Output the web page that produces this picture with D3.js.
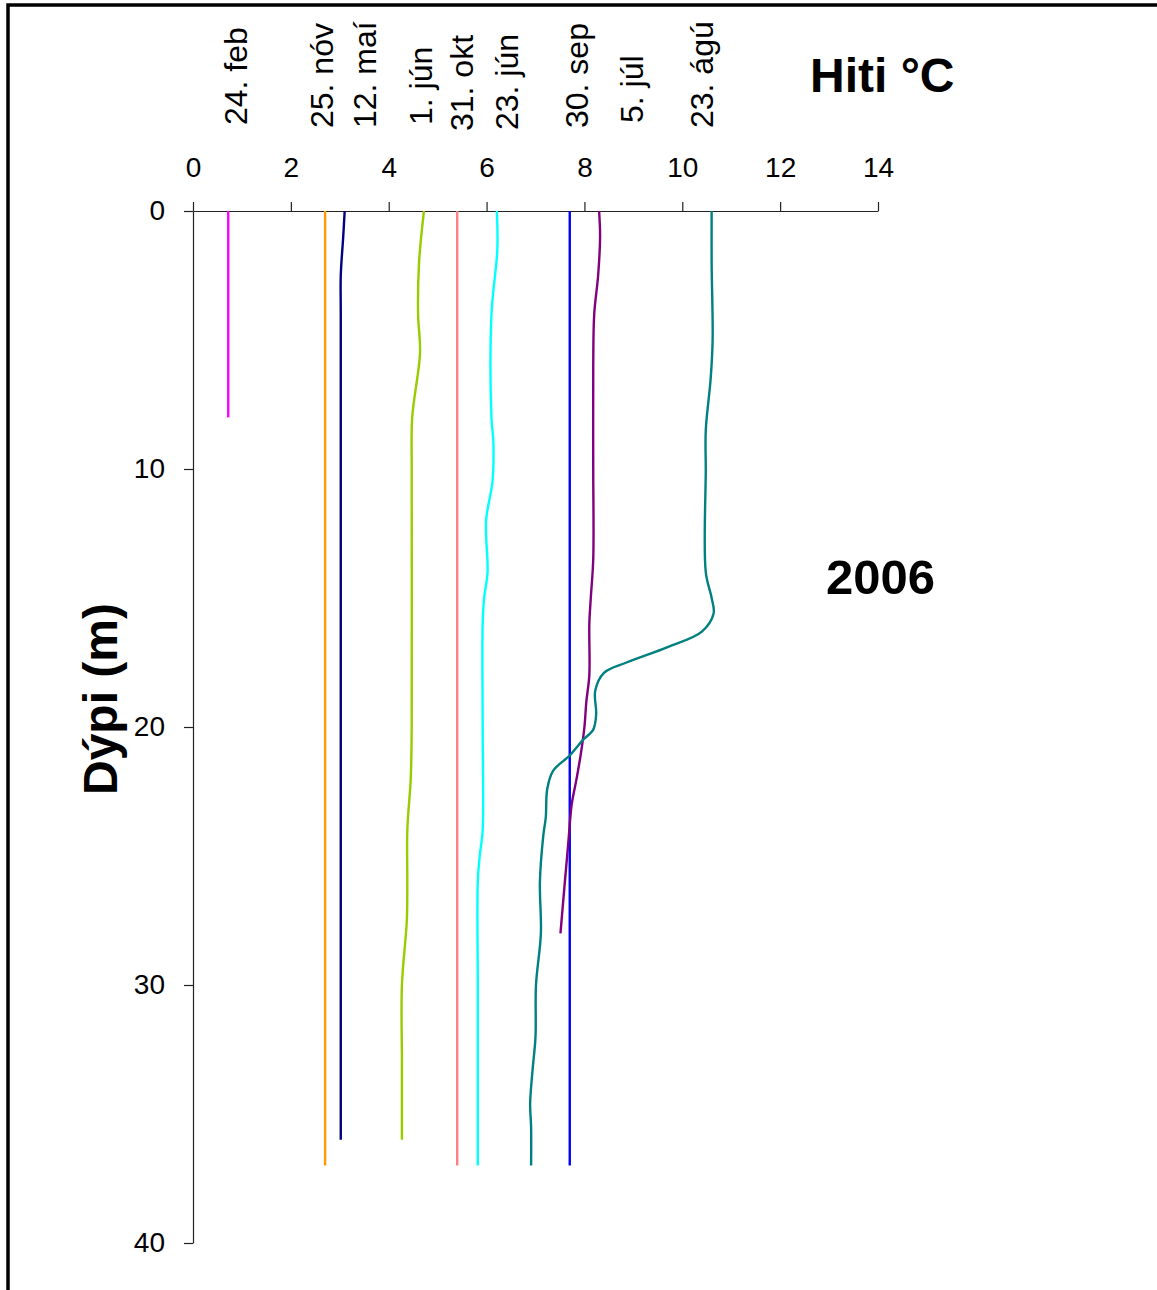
<!DOCTYPE html>
<html><head><meta charset="utf-8">
<script src="https://cdn.jsdelivr.net/npm/d3@7"></script>
<style>body{margin:0;background:#fff}svg{display:block}</style>
</head><body>
<svg id="c" width="1157" height="1290"></svg>
<script>
// ---- data: each profile is a list of [depth (m), temperature (°C)] ----
const seriesNames = ["24. feb","25. nóv","12. maí","1. jún","31. okt","23. jún","30. sep","5. júl","23. ágú"];
const seriesColors = ["#FF00FF","#FF9900","#000080","#99CC00","#FF8080","#00FFFF","#0000FF","#800080","#008080"];
const feb24 = [[0,0.72],[8,0.72]];
const nov25 = [[0,2.70],[37,2.70]];
const mai12 = [[0,3.10],[1,3.07],[2.5,3.02],[4,3.02],[36,3.02]];
const jun1  = [[0,4.72],[2,4.62],[4,4.60],[5.5,4.64],[8,4.48],[10,4.47],[20,4.47],[22,4.45],[24,4.38],[26,4.38],[27.5,4.37],[30,4.27],[33,4.27],[36,4.27]];
const okt31 = [[0,5.40],[37,5.40]];
const jun23 = [[0,6.21],[1.5,6.22],[4,6.10],[8,6.10],[9,6.14],[10.5,6.12],[12,5.99],[14,6.02],[15,5.95],[16,5.92],[20,5.92],[24,5.92],[25,5.86],[26,5.82],[30,5.82],[37,5.82]];
const sep30 = [[0,7.70],[37,7.70]];
const jul5  = [[0,8.30],[1,8.32],[2.5,8.28],[4,8.20],[6,8.18],[10,8.18],[13.5,8.18],[15,8.13],[16,8.10],[18,8.10],[19,8.04],[20,8.00],[21,7.93],[22,7.84],[23,7.74],[24.5,7.67],[26,7.60],[28,7.51]];
const agu23 = [[0,10.60],[2,10.60],[5,10.62],[6.5,10.58],[8.5,10.48],[10,10.48],[14,10.48],[15,10.60],[15.6,10.64],[16.3,10.40],[16.9,9.70],[17.5,8.86],[17.9,8.40],[18.6,8.22],[19.5,8.24],[20.1,8.18],[20.5,7.97],[21.1,7.70],[21.7,7.36],[22.4,7.24],[23.5,7.21],[24.2,7.16],[26,7.09],[28,7.11],[30,7.01],[32,7.00],[33.3,6.94],[34.6,6.89],[35.5,6.91],[37,6.91]];
const seriesValues = [feb24,nov25,mai12,jun1,okt31,jun23,sep30,jul5,agu23];
const xTicks = [0,2,4,6,8,10,12,14];
const yTicks = [0,10,20,30,40];
const xTitle = "Hiti °C";
const yTitle = "Dýpi (m)";
const yearLabel = "2006";

// ---- layout ----
const FONT = "'Liberation Sans', Arial, sans-serif";
const svg = d3.select("#c");
const x = d3.scaleLinear().domain([0,14]).range([193,878]);
const y = d3.scaleLinear().domain([0,40]).range([211,1243]);
// label placement (temperature coordinate of the label baseline, bottom y)
const labelX = [1.11,2.86,3.74,4.88,5.72,6.64,8.07,9.2,10.63];
const labelBottom = [125,128,128,125,131,130,128,123,128];

// frame (top + left)
svg.append("path").attr("d","M8,1290V5H1157").attr("fill","none").attr("stroke","#000").attr("stroke-width",3.5);

// axes
const gx = svg.append("g").attr("transform",`translate(0,${y(0)})`)
  .call(d3.axisTop(x).tickValues(xTicks).tickSize(9).tickSizeOuter(0).tickPadding(25).tickFormat(d3.format("d")));
const gy = svg.append("g").attr("transform",`translate(${x(0)},0)`)
  .call(d3.axisLeft(y).tickValues(yTicks).tickSize(9).tickSizeOuter(0).tickPadding(19).tickFormat(d3.format("d")));
[gx,gy].forEach(g=>{
  g.selectAll("path,line").attr("stroke","#222").attr("stroke-width",1.2);
  g.selectAll("text").attr("fill","#000").attr("font-family",FONT).attr("font-size",28);
});

// profiles
const line = d3.line().x(d=>x(d[1])).y(d=>y(d[0])).curve(d3.curveCatmullRom.alpha(0.5));
svg.append("g").selectAll("path").data(seriesValues).join("path")
  .attr("d",line).attr("fill","none")
  .attr("stroke",(d,i)=>seriesColors[i]).attr("stroke-width",2.4);

// series labels (rotated)
svg.append("g").selectAll("text").data(seriesNames).join("text")
  .attr("transform",(d,i)=>`translate(${x(labelX[i])},${labelBottom[i]}) rotate(-90)`)
  .attr("font-family",FONT).attr("font-size",32).attr("fill","#000")
  .text(d=>d);

// titles
svg.append("text").attr("x",810).attr("y",92).attr("font-family",FONT)
  .attr("font-weight","bold").attr("font-size",48).attr("fill","#000").text(xTitle);
svg.append("text").attr("x",826).attr("y",594).attr("font-family",FONT)
  .attr("font-weight","bold").attr("font-size",49).attr("fill","#000").text(yearLabel);
svg.append("text").attr("transform","translate(117,699) rotate(-90)").attr("text-anchor","middle")
  .attr("font-family",FONT).attr("font-weight","bold").attr("font-size",48).attr("fill","#000").text(yTitle);
</script>
</body></html>
